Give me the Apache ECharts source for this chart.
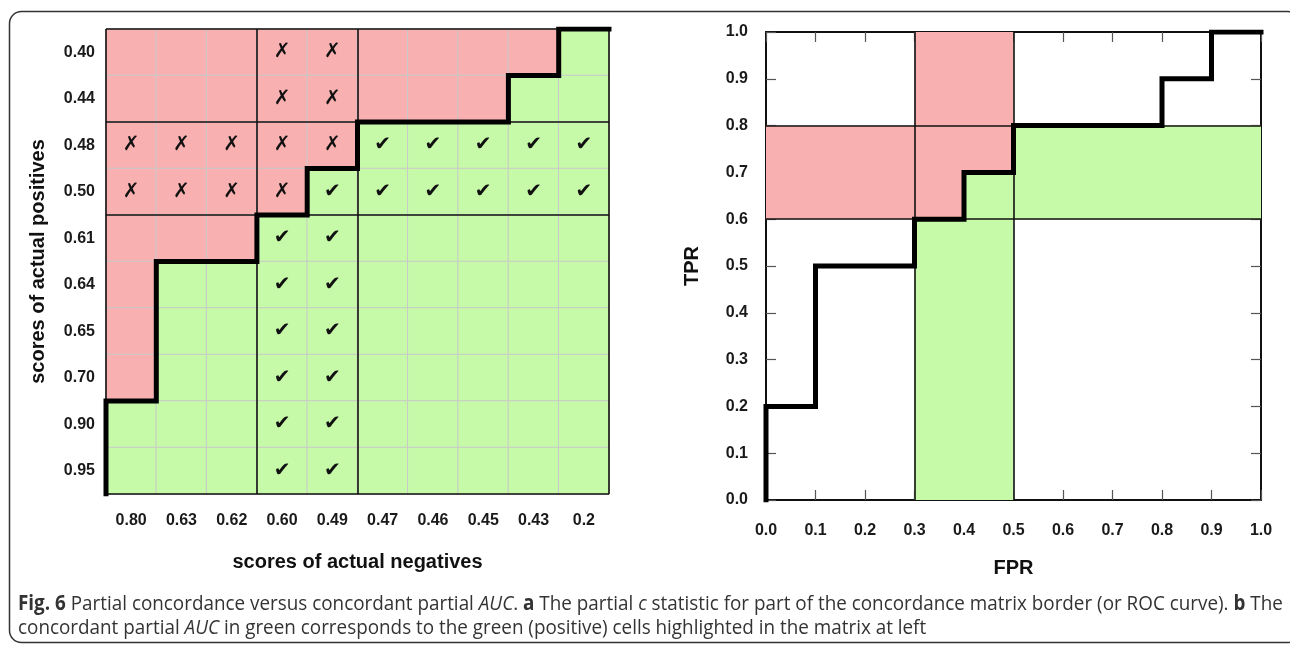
<!DOCTYPE html>
<html><head><meta charset="utf-8">
<script src="https://cdn.jsdelivr.net/npm/echarts@6/dist/echarts.min.js"></script>
<style>html,body{margin:0;padding:0;background:#fff}#c{width:1290px;height:647px}</style>
</head><body><div id="c"></div>
<script>
// ---- data ----
const negScores = ['0.80','0.63','0.62','0.60','0.49','0.47','0.46','0.45','0.43','0.2'];
const posScores = ['0.40','0.44','0.48','0.50','0.61','0.64','0.65','0.70','0.90','0.95']; // top to bottom
const partialNeg = ['0.60','0.49'];
const partialPos = ['0.48','0.50'];
const rocFpr = [0,0,0.1,0.1,0.3,0.3,0.4,0.4,0.5,0.5,0.8,0.8,0.9,0.9,1.0];
const rocTpr = [0,0.2,0.2,0.5,0.5,0.6,0.6,0.7,0.7,0.8,0.8,0.9,0.9,1.0,1.0];
const fprRange = [0.3,0.5];
const tprRange = [0.6,0.8];
const rocTickLabels = ['0.0','0.1','0.2','0.3','0.4','0.5','0.6','0.7','0.8','0.9','1.0'];
const captionLine1 = '{b|Fig. 6} Partial concordance versus concordant partial {i|AUC}. {b|a} The partial {i|c} statistic for part of the concordance matrix border (or ROC curve). {b|b} The';
const captionLine2 = 'concordant partial {i|AUC} in green corresponds to the green (positive) cells highlighted in the matrix at left';

// ---- derived ----
const RED = '#f9b0b1', GREEN = '#c6f9a8';
const nCols = negScores.length, nRows = posScores.length;
const heat = [];
negScores.forEach((n, i) => {
  posScores.forEach((p, j) => {
    const conc = parseFloat(p) > parseFloat(n) ? 1 : 0;
    const marked = partialNeg.includes(n) || partialPos.includes(p);
    heat.push({ value: [i, j, conc], mark: marked ? (conc ? '\u2714' : '\u2717') : '' });
  });
});
const matrixLine = rocFpr.map((x, k) => [x * nCols, rocTpr[k] * nRows]);
const rocLine = rocFpr.map((x, k) => [x, rocTpr[k]]);
const clamp = (v, a, b) => Math.min(Math.max(v, a), b);
const greenV = rocLine.map(p => [clamp(p[0], fprRange[0], fprRange[1]), p[1]])
  .concat([[fprRange[1], 0], [fprRange[0], 0]]);
const greenH = rocLine.map(p => [p[0], clamp(p[1], tprRange[0], tprRange[1])])
  .concat([[1, tprRange[0]], [0, tprRange[0]]]);

const FONT = 'Liberation Sans';
const lbl = { fontFamily: FONT, fontWeight: 'bold', fontSize: 16, color: '#1a1a1a' };
const nameStyle = { fontFamily: FONT, fontWeight: 'bold', fontSize: 20, color: '#111' };

const chart = echarts.init(document.getElementById('c'), null, { renderer: 'canvas' });
const tickStyle = { show: true, inside: true, length: 10, lineStyle: { color: '#555', width: 1.2 } };
const axLine = { show: true, onZero: false, lineStyle: { color: '#111', width: 2 } };
const capFont = { fontFamily: 'Open Sans', fontSize: 20.5, fill: '#333' };

chart.setOption({
  animation: false,
  backgroundColor: '#fff',
  grid: [
    { left: 106, top: 29, width: 503, height: 465 },
    { left: 766, top: 32, width: 495, height: 468 }
  ],
  xAxis: [
    { type: 'category', gridIndex: 0, data: negScores, position: 'bottom',
      axisLine: { show: false }, axisTick: { show: false }, splitLine: { show: false },
      axisLabel: Object.assign({ margin: 19 }, lbl),
      name: 'scores of actual negatives', nameLocation: 'middle', nameGap: 58, nameTextStyle: nameStyle },
    { type: 'value', gridIndex: 0, min: 0, max: nCols, show: false },
    { type: 'value', gridIndex: 1, min: 0, max: 1, interval: 0.1, position: 'bottom',
      axisLine: axLine, axisTick: tickStyle, splitLine: { show: false },
      axisLabel: Object.assign({ margin: 23, formatter: v => rocTickLabels[Math.round(v * 10)] }, lbl),
      name: 'FPR', nameLocation: 'middle', nameGap: 58, nameTextStyle: nameStyle },
    { type: 'value', gridIndex: 1, min: 0, max: 1, interval: 0.1, position: 'top',
      axisLine: axLine, axisTick: tickStyle, axisLabel: { show: false }, splitLine: { show: false } }
  ],
  yAxis: [
    { type: 'category', gridIndex: 0, data: posScores, inverse: true,
      axisLine: { show: false }, axisTick: { show: false }, splitLine: { show: false },
      axisLabel: Object.assign({ margin: 11 }, lbl),
      name: 'scores of actual positives', nameLocation: 'middle', nameGap: 58, nameTextStyle: nameStyle },
    { type: 'value', gridIndex: 0, min: 0, max: nRows, show: false },
    { type: 'value', gridIndex: 1, min: 0, max: 1, interval: 0.1, position: 'left',
      axisLine: axLine, axisTick: tickStyle, splitLine: { show: false },
      axisLabel: Object.assign({ margin: 18, formatter: v => rocTickLabels[Math.round(v * 10)] }, lbl),
      name: 'TPR', nameLocation: 'middle', nameGap: 64, nameTextStyle: nameStyle },
    { type: 'value', gridIndex: 1, min: 0, max: 1, interval: 0.1, position: 'right',
      axisLine: axLine, axisTick: tickStyle, axisLabel: { show: false }, splitLine: { show: false } }
  ],
  visualMap: { show: false, type: 'piecewise', seriesIndex: 0, dimension: 2,
    pieces: [{ value: 0, color: RED }, { value: 1, color: GREEN }] },
  series: [
    { type: 'heatmap', xAxisIndex: 0, yAxisIndex: 0, data: heat,
      itemStyle: { borderColor: '#c9c9c9', borderWidth: 1 },
      label: { show: true, formatter: p => p.data.mark, fontFamily: 'DejaVu Sans', fontWeight: 'bold', fontSize: 20, color: '#111' },
      emphasis: { disabled: true } },
    { type: 'line', xAxisIndex: 1, yAxisIndex: 1, data: matrixLine, showSymbol: false, symbol: 'none',
      lineStyle: { color: '#000', width: 5, join: 'miter', cap: 'square' }, z: 5,
      markLine: { silent: true, symbol: 'none', label: { show: false },
        lineStyle: { color: '#111', width: 1.6, type: 'solid' },
        data: [{ xAxis: 0 }, { xAxis: nCols }, { yAxis: 0 }, { yAxis: nRows },
               { xAxis: fprRange[0] * nCols }, { xAxis: fprRange[1] * nCols },
               { yAxis: tprRange[0] * nRows }, { yAxis: tprRange[1] * nRows }] } },
    { type: 'custom', xAxisIndex: 2, yAxisIndex: 2, data: [[0, 0]], z: 1, silent: true,
      renderItem: (params, api) => {
        const rect = (x0, y0, x1, y1) => {
          const a = api.coord([x0, y1]), b = api.coord([x1, y0]);
          return { type: 'rect', shape: { x: a[0], y: a[1], width: b[0] - a[0], height: b[1] - a[1] }, style: { fill: RED } };
        };
        const poly = pts => ({ type: 'polygon', shape: { points: pts.map(p => api.coord(p)) }, style: { fill: GREEN } });
        return { type: 'group', children: [
          rect(0, tprRange[0], 1, tprRange[1]),
          rect(fprRange[0], 0, fprRange[1], 1),
          poly(greenH), poly(greenV)
        ] };
      } },
    { type: 'line', xAxisIndex: 2, yAxisIndex: 2, data: rocLine, showSymbol: false, symbol: 'none',
      lineStyle: { color: '#000', width: 5, join: 'miter', cap: 'square' }, z: 5,
      markLine: { silent: true, symbol: 'none', label: { show: false },
        lineStyle: { color: '#111', width: 1.6, type: 'solid' },
        data: [{ xAxis: fprRange[0] }, { xAxis: fprRange[1] }, { yAxis: tprRange[0] }, { yAxis: tprRange[1] }] } }
  ],
  graphic: [
    { type: 'rect', left: 7, top: 9, shape: { width: 1290, height: 631, r: 12 }, z: -10,
      style: { fill: 'none', stroke: '#333', lineWidth: 1.5 } },
    { type: 'text', x: 18, y: 594, scaleX: 0.92, style: Object.assign({ text: captionLine1,
      rich: { b: Object.assign({ fontWeight: 'bold' }, capFont), i: Object.assign({ fontStyle: 'italic' }, capFont) } }, capFont) },
    { type: 'text', x: 18, y: 618, scaleX: 0.92, style: Object.assign({ text: captionLine2,
      rich: { b: Object.assign({ fontWeight: 'bold' }, capFont), i: Object.assign({ fontStyle: 'italic' }, capFont) } }, capFont) }
  ]
});
</script></body></html>
